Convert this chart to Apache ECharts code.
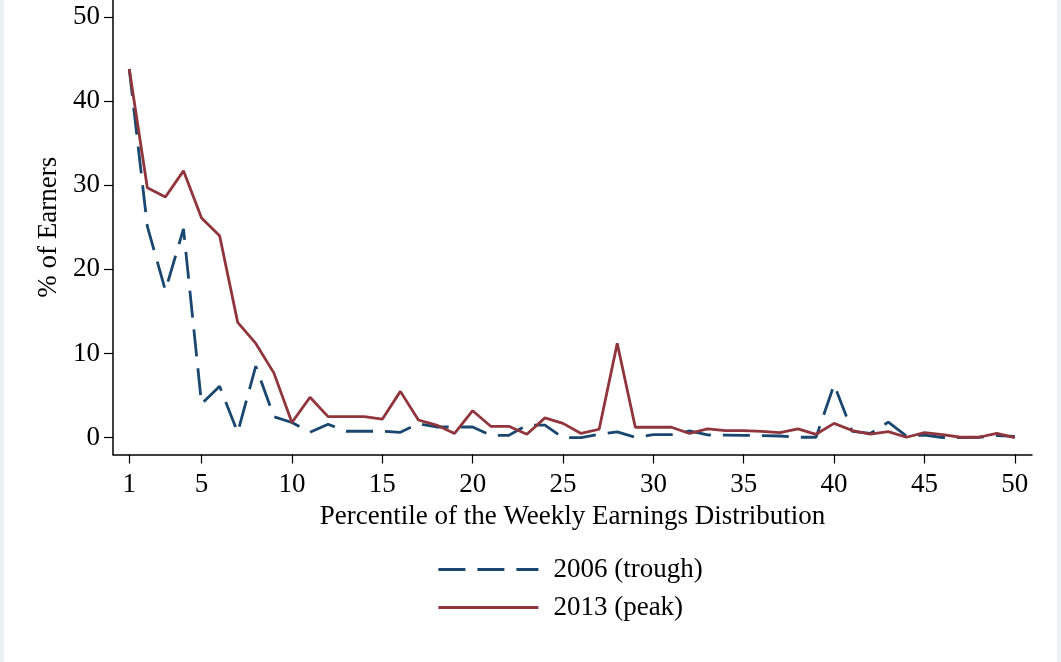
<!DOCTYPE html>
<html>
<head>
<meta charset="utf-8">
<title>Weekly earnings distribution</title>
<script src="https://cdn.jsdelivr.net/npm/echarts@6/dist/echarts.min.js"></script>
<style>
	html, body { margin: 0; padding: 0; background: #fff; }
	#chart { width: 1061px; height: 662px; }
</style>
</head>
<body>
<div id="chart"></div>
<script>
// percentiles 1..50 of the weekly earnings distribution
var percentiles = [1, 2, 3, 4, 5, 6, 7, 8, 9, 10,
	11, 12, 13, 14, 15, 16, 17, 18, 19, 20,
	21, 22, 23, 24, 25, 26, 27, 28, 29, 30,
	31, 32, 33, 34, 35, 36, 37, 38, 39, 40,
	41, 42, 43, 44, 45, 46, 47, 48, 49, 50];

// % of earners, 2006 (trough)
var trough2006 = [43.8, 25.1, 17.5, 24.8, 4.0, 6.1, 0.6, 8.5, 2.5, 1.8,
	0.65, 1.6, 0.76, 0.76, 0.76, 0.64, 1.67, 1.27, 1.27, 1.27,
	0.27, 0.27, 1.5, 1.5, 0.0, 0.0, 0.42, 0.68, 0.05, 0.35,
	0.35, 0.8, 0.32, 0.3, 0.28, 0.25, 0.2, 0.05, 0.05, 6.3,
	0.75, 0.5, 1.85, 0.2, 0.3, 0.02, 0.0, 0.05, 0.25, 0.15];

// % of earners, 2013 (peak)
var peak2013 = [43.8, 29.7, 28.6, 31.7, 26.1, 24.0, 13.7, 11.2, 7.7, 1.8,
	4.8, 2.5, 2.5, 2.5, 2.2, 5.5, 2.1, 1.5, 0.5, 3.2,
	1.35, 1.35, 0.4, 2.35, 1.7, 0.5, 1.0, 11.2, 1.24, 1.24,
	1.24, 0.5, 1.04, 0.83, 0.83, 0.75, 0.6, 1.05, 0.4, 1.7,
	0.85, 0.42, 0.72, 0.05, 0.6, 0.35, 0.05, 0.05, 0.5, 0.0];

var xTicks = [1, 5, 10, 15, 20, 25, 30, 35, 40, 45, 50];
var yTicks = [0, 10, 20, 30, 40, 50];

function toPairs(xs, ys) {
	var out = [];
	for (var i = 0; i < xs.length; i++) {
		out.push([xs[i], ys[i]]);
	}
	return out;
}

var font = 'Liberation Serif, Times New Roman, serif';

var myChart = echarts.init(document.getElementById('chart'), null, { renderer: 'canvas' });
var option = {
	backgroundColor: '#fff',
	animation: false,
	// faint frame of the original graph region
	graphic: [
		{ type: 'rect', left: 0, top: 0, shape: { width: 4, height: 662 }, style: { fill: '#eaf2f3' } },
		{ type: 'rect', left: 1057, top: 0, shape: { width: 4, height: 662 }, style: { fill: '#eaf2f3' } }
	],
	grid: {
		left: 113,
		top: 0,
		width: 919,
		height: 454.5
	},
	legend: {
		orient: 'vertical',
		left: 432,
		top: 551,
		itemWidth: 100,
		itemHeight: 26,
		itemGap: 11,
		data: ['2006 (trough)', '2013 (peak)'],
		itemStyle: { opacity: 0 },
		lineStyle: { width: 2.8 },
		textStyle: {
			fontFamily: font,
			fontSize: 27,
			lineHeight: 26,
			color: '#000',
			padding: [0, 0, 0, 10]
		}
	},
	xAxis: {
		type: 'value',
		min: 0.1,
		max: 50.95,
		name: 'Percentile of the Weekly Earnings Distribution',
		nameLocation: 'middle',
		nameGap: 46,
		nameTextStyle: { fontFamily: font, fontSize: 27, color: '#000' },
		axisLine: { onZero: false, lineStyle: { color: '#000', width: 1.5 } },
		axisTick: { customValues: xTicks, length: 9, lineStyle: { color: '#000', width: 1.2 } },
		axisLabel: { customValues: xTicks, margin: 17, fontFamily: font, fontSize: 27, color: '#000' },
		splitLine: { show: false }
	},
	yAxis: {
		type: 'value',
		min: -2,
		max: 52,
		name: '% of Earners',
		nameLocation: 'middle',
		nameGap: 51,
		nameTextStyle: { fontFamily: font, fontSize: 27, color: '#000' },
		axisLine: { show: true, onZero: false, lineStyle: { color: '#000', width: 1.5 } },
		axisTick: { show: true, customValues: yTicks, length: 9, lineStyle: { color: '#000', width: 1.2 } },
		axisLabel: { customValues: yTicks, margin: 13, fontFamily: font, fontSize: 27, color: '#000' },
		splitLine: { show: false }
	},
	series: [{
		name: '2006 (trough)',
		type: 'line',
		symbol: 'none',
		data: toPairs(percentiles, trough2006),
		lineStyle: { color: '#1a476f', width: 2.8, type: [27, 12] },
		itemStyle: { color: '#1a476f' }
	}, {
		name: '2013 (peak)',
		type: 'line',
		symbol: 'none',
		data: toPairs(percentiles, peak2013),
		lineStyle: { color: '#90353b', width: 2.8 },
		itemStyle: { color: '#90353b' }
	}]
};
myChart.setOption(option);
</script>
</body>
</html>
